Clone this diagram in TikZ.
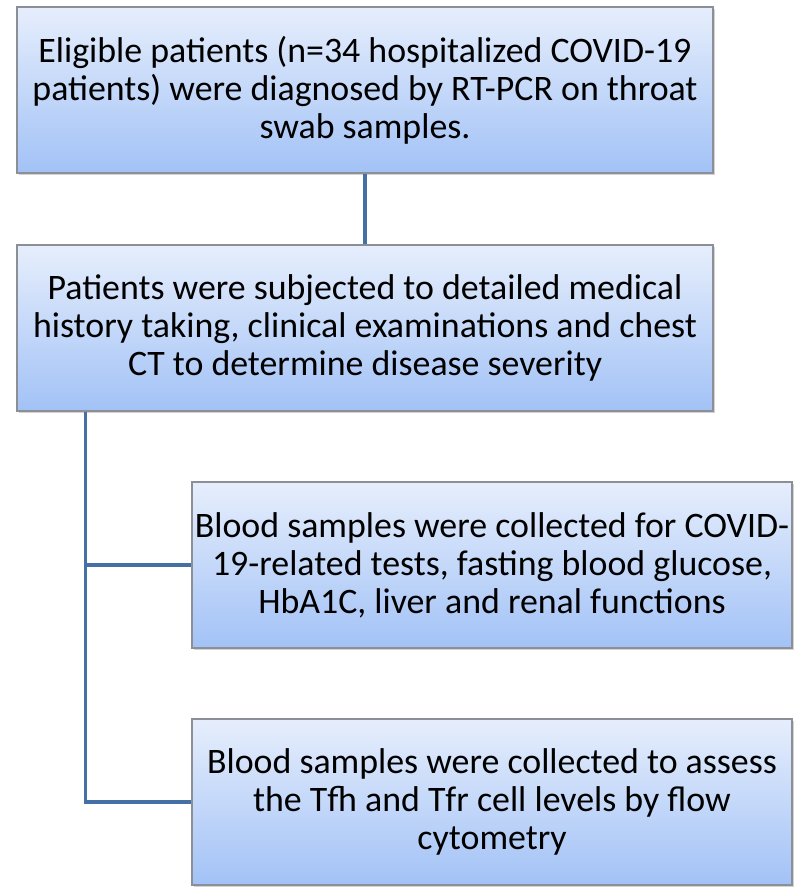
\documentclass[tikz,border=0pt]{standalone}
\usepackage{fontspec}
\setmainfont{Carlito}
\usepackage{xcolor}
\definecolor{boxtop}{HTML}{E6EEFC}
\definecolor{boxbottom}{HTML}{A2C2F6}
\definecolor{boxline}{HTML}{8C8F96}
\definecolor{linkline}{HTML}{4470A6}
\usetikzlibrary{calc,shadows}
\tikzstyle{bluebox} = [rectangle, draw=boxline, line width=0.8pt, top color=boxtop, bottom color=boxbottom, align=center, inner sep=0pt, font=\fontsize{25.5}{27}\selectfont, drop shadow={opacity=0.35, shadow xshift=1.5pt, shadow yshift=-1.5pt}]
\tikzstyle{widebox} = [bluebox, minimum width=17.4cm, minimum height=4.15cm]
\tikzstyle{narrowbox} = [bluebox, minimum width=15cm, minimum height=4.15cm]
\tikzstyle{link} = [draw=linkline, line width=2.2pt]

\begin{document}
\begin{tikzpicture}
\useasboundingbox (0,0) rectangle (20,-22.375);

\node (b1) [widebox] at (9.125,-2.25) {Eligible patients (n=34 hospitalized COVID-19\\ patients) were diagnosed by RT-PCR on throat\\ swab samples.};
\node (b2) [widebox] at (9.125,-8.2) {Patients were subjected to detailed medical\\ history taking, clinical examinations and chest\\ CT to determine disease severity};

\node (b3) [narrowbox] at (12.3,-14.125) {Blood samples were collected for COVID-\\ 19-related tests, fasting blood glucose,\\ HbA1C, liver and renal functions};
\node (b4) [narrowbox] at (12.3,-20.05) {Blood samples were collected to assess\\ the Tfh and Tfr cell levels by flow\\ cytometry};

\coordinate (trunk) at ($(b2.south west)+(1.725,0)$);

\draw[link] (b1) -- (b2);
\draw[link] (trunk) |- (b3.west);
\draw[link] (trunk) |- (b4.west);

\end{tikzpicture}
\end{document}
